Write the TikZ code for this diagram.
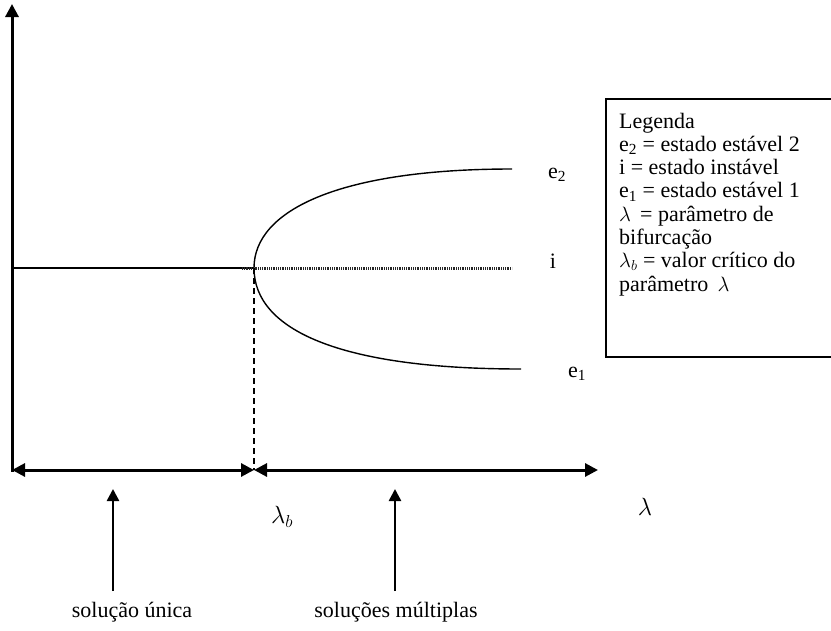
\documentclass[tikz,border=0pt]{standalone}
\usepackage{fontspec}
\setmainfont{Liberation Serif}
\usetikzlibrary{arrows.meta}
\begin{document}
\begin{tikzpicture}[x=1pt,y=-1pt,
  thick axis/.style={line width=3pt},
  bigtip/.tip={Triangle[length=13pt,width=13pt]},
  uparrow/.style={line width=2.5pt,-{Triangle[length=12pt,width=12pt]}},
  lbl/.style={font=\fontsize{22}{24}\selectfont, inner sep=0pt},
  leg/.style={font=\fontsize{22}{24}\selectfont, inner sep=0pt, anchor=base west},
  biglam/.style={font=\fontsize{26}{30}\selectfont, inner sep=0pt},
]
\useasboundingbox (0,0) rectangle (831,630);
% key points
\coordinate (Obase) at (12,471.5);
\coordinate (O) at (12,470);
\coordinate (Ytop) at (12,4);
\coordinate (B) at (254,470);
\coordinate (R) at (598,470);
\coordinate (V) at (254,268);
\coordinate (Vd) at (242,268);
\coordinate (L0) at (12,268);
\coordinate (Iend) at (512,268);
\coordinate (E2end) at (512,169);
\coordinate (E1end) at (521,369);
% axes
\draw[thick axis,-bigtip] (Obase) -- (Ytop);
\draw[thick axis,bigtip-bigtip] (O) -- (B);
\draw[thick axis,bigtip-bigtip] (B) -- (R);
% dashed critical line
\draw[line width=2pt, dash pattern=on 6pt off 4pt] (V) -- (B);
% branches
\draw[line width=1.2pt] (L0) -- (V);
\draw[line width=3pt, dash pattern=on 1pt off 0.8pt, black!85] (Vd) -- (Iend);
\draw[line width=1.4pt] (E2end) .. controls (340,169) and (254,210) .. (V)
      .. controls (254,330) and (340,369) .. (E1end);
% branch labels
\node[lbl] (e2) at (557,175) {e\textsubscript{2}};
\node[lbl] (i) at (553,261) {i};
\node[lbl] (e1) at (577,374) {e\textsubscript{1}};
% lambda labels
\node[biglam] (lamb) at (282,517) {$\lambda_b$};
\node[biglam] (lam) at (645,507) {$\lambda$};
% up arrows
\coordinate (u1s) at (113,591);
\coordinate (u1e) at (113,489);
\coordinate (u2s) at (395,591);
\coordinate (u2e) at (395,489);
\draw[uparrow] (u1s) -- (u1e);
\draw[uparrow] (u2s) -- (u2e);
\node[lbl] (unica) at (132,612) {solução única};
\node[lbl] (mult) at (396,612) {soluções múltiplas};
% legend
\draw[line width=1.2pt] (606,99) rectangle (836,357);
\node[leg] (l1) at (619,128) {Legenda};
\node[leg] (l2) at (619,151.3) {e\textsubscript{2} = estado estável 2};
\node[leg] (l3) at (619,174.6) {i = estado instável};
\node[leg] (l4) at (619,197.9) {e\textsubscript{1} = estado estável 1};
\node[leg] (l5) at (619,221.2) {$\lambda$ \,= parâmetro de};
\node[leg] (l6) at (619,244.5) {bifurcação};
\node[leg] (l7) at (619,267.8) {$\lambda_b$ = valor crítico do};
\node[leg] (l8) at (619,291.1) {parâmetro \,$\lambda$};
\end{tikzpicture}
\end{document}
